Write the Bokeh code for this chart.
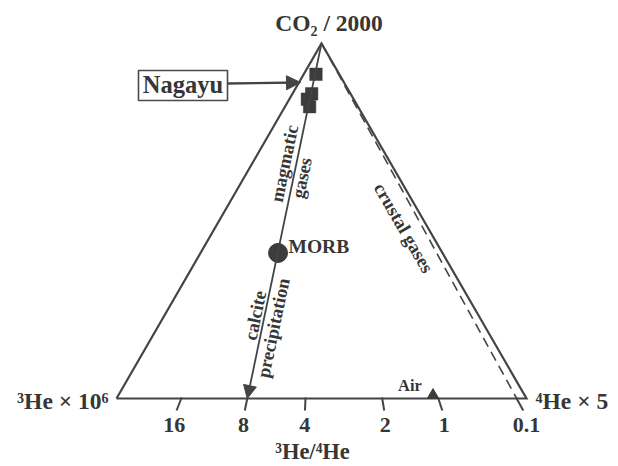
import math
from bokeh.plotting import figure
from bokeh.models import Range1d, Arrow, NormalHead
from bokeh.core.properties import value
from bokeh.embed import file_html
from bokeh.resources import INLINE

# ---------------- data: ternary fractions (CO2/2000, 3He x 1e6, 4He x 5) ----------------
apex_label = "CO₂ / 2000"
left_label = "³He × 10⁶"
right_label = "⁴He × 5"
base_title = "³He/⁴He"

nagayu_co2 = [0.913, 0.858, 0.843, 0.822]
nagayu_he3 = [0.057, 0.095, 0.113, 0.118]
nagayu_he4 = [0.030, 0.047, 0.044, 0.060]

morb_co2 = [0.410]
morb_he3 = [0.401]
morb_he4 = [0.189]

air_co2 = [0.010]
air_he3 = [0.223]
air_he4 = [0.767]

ratio_labels = ["16", "8", "4", "2", "1", "0.1"]
ratio_he4 = [0.158, 0.319, 0.461, 0.648, 0.785, 0.976]   # 4He fraction on the base

SQ3 = math.sqrt(3.0)


def tern(co2, he3, he4):
    xs, ys = [], []
    for c, a, b in zip(co2, he3, he4):
        s = c + a + b
        xs.append((b + c / 2.0) / s)
        ys.append((c * SQ3 / 2.0) / s)
    return xs, ys


# ---------------- layout helpers (pixel -> data, 410 px per unit) ----------------
S = 410.0
X0, Y0 = 116.0, 398.0
W, H = 618, 466


def P(X, Y):
    return (X - X0) / S, (Y0 - Y) / S


def px(n):
    return n / S


FONT = value("Liberation Serif")
LINE = "#444444"
TXT = "#363636"
MARK = "#3c3c3c"

p = figure(width=W, height=H, output_backend="svg", toolbar_location=None,
           x_range=Range1d((0 - X0) / S, (W - X0) / S),
           y_range=Range1d((Y0 - H) / S, (Y0 - 0) / S),
           x_axis_type=None, y_axis_type=None, min_border=0)
p.grid.visible = False
p.outline_line_color = None
p.background_fill_color = "white"
p.border_fill_color = "white"

# triangle frame
AX, AY = tern([1], [0], [0])
LX, LY = tern([0], [1], [0])
RX, RY = tern([0], [0], [1])
p.line(x=[LX[0], RX[0], AX[0], LX[0]], y=[LY[0], RY[0], AY[0], LY[0]],
       line_color=LINE, line_width=2.2, line_join="miter")

# base ticks (along iso-ratio lines through the CO2 apex)
tx0, ty0, tx1, ty1, lx, ly = [], [], [], [], [], []
for f in ratio_he4:
    dxdy = (f - AX[0]) / AY[0]
    tx0.append(f - dxdy * px(1)); ty0.append(px(1))
    tx1.append(f - dxdy * px(-12)); ty1.append(-px(12))
    lx.append(f + dxdy * px(18)); ly.append(P(0, 424.5)[1])
p.segment(x0=tx0, y0=ty0, x1=tx1, y1=ty1, line_color=LINE, line_width=2)
p.text(x=lx, y=ly, text=ratio_labels, text_font=FONT, text_font_style="bold",
       text_font_size="22px", text_color=TXT, text_align="center", text_baseline="middle")

# crustal gases dashed line: apex -> 0.1 ratio point
p.line(x=[AX[0], ratio_he4[5]], y=[AY[0], 0], line_color=LINE, line_width=1.6, line_dash="10 6")

# magmatic / calcite trend: apex -> 8 ratio point with arrow
p.add_layout(Arrow(end=NormalHead(size=13, fill_color=LINE, line_color=LINE, line_width=1),
                   x_start=AX[0], y_start=AY[0], x_end=ratio_he4[1], y_end=0,
                   line_color=LINE, line_width=1.8))

# samples
nx, ny = tern(nagayu_co2, nagayu_he3, nagayu_he4)
p.scatter(x=nx, y=ny, marker="square", size=12.5, fill_color=MARK, line_color=MARK, line_width=0.5)
mx, my = tern(morb_co2, morb_he3, morb_he4)
p.scatter(x=mx, y=my, marker="circle", size=19, fill_color=MARK, line_color=MARK)
ax_, ay_ = tern(air_co2, air_he3, air_he4)
p.scatter(x=ax_, y=ay_, marker="triangle", size=11, fill_color=MARK, line_color=MARK)

# Nagayu box + arrow
bl, bt = P(138, 70)
br, bb = P(227, 100)
p.quad(left=[bl], right=[br], top=[bt], bottom=[bb], fill_color="white",
       line_color="#4a4a4a", line_width=1.6)
xa0, ya0 = P(227, 83)
xa1, ya1 = P(300, 82)
p.add_layout(Arrow(end=NormalHead(size=14, fill_color=LINE, line_color=LINE, line_width=1),
                   x_start=xa0, y_start=ya0, x_end=xa1, y_end=ya1,
                   line_color=LINE, line_width=2.4))


def label(txt, X, Y, size, align="center", angle=0.0):
    x, y = P(X, Y)
    p.text(x=[x], y=[y], text=[txt], text_font=FONT, text_font_style="bold",
           text_font_size=size, text_color=TXT, text_align=align,
           text_baseline="middle", angle=angle, angle_units="deg")


label("Nagayu", 182.5, 83.5, "24.5px")
label(apex_label, 328.5, 22.5, "23.5px")
label(left_label, 108, 400, "23.5px", align="right")
label(right_label, 535, 400, "23.5px", align="left")
label(base_title, 312, 451, "22.5px")
label("MORB", 288, 246, "19.5px", align="left")
label("Air", 409.5, 384.5, "16.5px")

mag_angle = math.degrees(math.atan2(AY[0], AX[0] - ratio_he4[1]))
label("magmatic", 284, 163, "18.5px", angle=mag_angle)
label("gases", 301.5, 177.5, "18.5px", angle=mag_angle)
label("calcite", 255, 315, "18.5px", angle=mag_angle)
label("precipitation", 273, 327.5, "18.5px", angle=mag_angle)
edge_angle = math.degrees(math.atan2(RY[0] - AY[0], RX[0] - AX[0]))
label("crustal gases", 403, 227.5, "18.5px", angle=edge_angle)

open("out.html", "w").write(file_html(p, INLINE))
